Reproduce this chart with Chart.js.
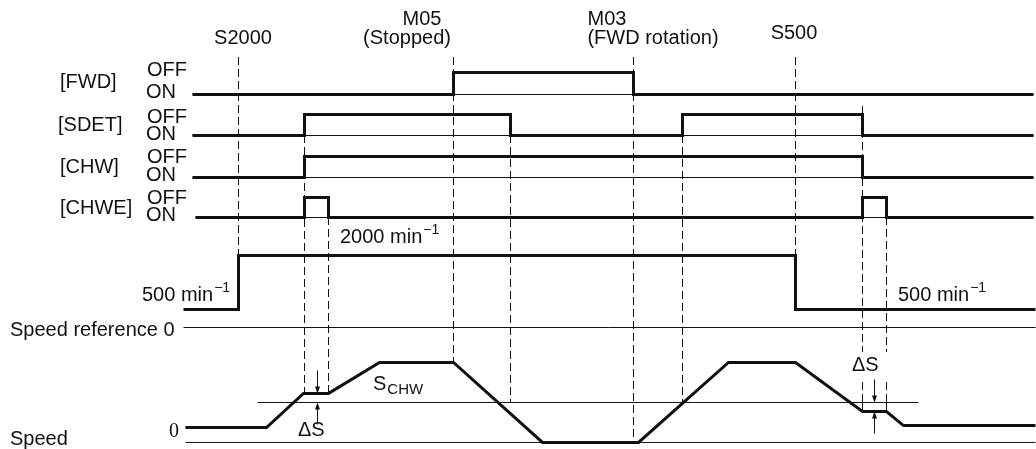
<!DOCTYPE html>
<html>
<head>
<meta charset="utf-8">
<script src="https://cdn.jsdelivr.net/npm/chart.js@4.4.1/dist/chart.umd.min.js"></script>
<style>
  html, body { margin: 0; padding: 0; background: #fff; }
  canvas { display: block; }
</style>
</head>
<body>
<canvas id="timing" width="1036" height="449"></canvas>
<script>
// transition times (horizontal units)
const eventTimes = [238, 304, 328, 453, 510, 633, 682, 795, 862, 886];

// signal states: 0 = ON (low line), 1 = OFF (high line)
const fwdTimes = [192, 453, 633, 1033];
const fwdStates = [0, 1, 0, 0];
const sdetTimes = [192, 304, 510, 682, 862, 1033];
const sdetStates = [0, 1, 0, 1, 0, 0];
const chwTimes = [192, 304, 862, 1033];
const chwStates = [0, 1, 0, 0];
const chweTimes = [195, 304, 328, 862, 886, 1033];
const chweStates = [0, 1, 0, 1, 0, 0];

// speed reference, min-1
const refTimes = [183, 238, 795, 1035];
const refValues = [500, 2000, 500, 500];

// actual speed (same units as the reference)
const speedTimes = [185, 266, 303, 328, 379, 453, 542, 638, 728, 795, 862, 886, 903, 1035];
const speedValues = [0, 0, 1050, 1050, 2000, 2000, -460, -460, 2000, 2000, 490, 490, 60, 60];
const speedChw = 770;     // S_CHW level
const speedFloor = -460;  // lower thin line

const W = 1036, H = 449;
const ink = '#111';
const sans = '"Liberation Sans", Arial, Helvetica, sans-serif';

// builds an invisible y axis so that value v0 sits at pixel p0 and v1 at p1
function fitAxis(v0, p0, v1, p1) {
  const k = (p0 - p1) / (v1 - v0);
  const max = v0 + p0 / k;
  return { type: 'linear', axis: 'y', position: 'left', display: false, min: max - H / k, max: max };
}

const pts = (xs, ys) => xs.map((x, i) => ({ x: x, y: ys[i] }));

function trace(xs, ys, axis, width, extra) {
  return Object.assign({
    data: pts(xs, ys),
    yAxisID: axis,
    showLine: true,
    borderColor: ink,
    borderWidth: width,
    pointRadius: 0,
    tension: 0,
    fill: false,
    borderJoinStyle: 'miter',
    borderCapStyle: 'butt',
    clip: false
  }, extra || {});
}

const datasets = [
  trace(fwdTimes, fwdStates, 'fwd', 3, { stepped: true }),
  trace(sdetTimes, sdetStates, 'sdet', 3, { stepped: true }),
  trace(chwTimes, chwStates, 'chw', 3, { stepped: true }),
  trace(chweTimes, chweStates, 'chwe', 3, { stepped: true }),
  trace(refTimes, refValues, 'ref', 3, { stepped: true }),
  trace(speedTimes, speedValues, 'speed', 3),
  // thin reference lines
  trace([192, 1033], [0, 0], 'fwd', 1),
  trace([192, 1033], [0, 0], 'sdet', 1),
  trace([192, 1033], [0, 0], 'chw', 1),
  trace([195, 1033], [0, 0], 'chwe', 1),
  trace([183, 1035], [0, 0], 'ref', 1),
  trace([257, 918], [speedChw, speedChw], 'speed', 1),
  trace([185, 1035], [speedFloor, speedFloor], 'speed', 1)
];

// dashed guides: event index, then top/bottom in picture rows
const guides = [
  [0, 57, 255], [1, 135, 393], [2, 217, 393], [3, 57, 362], [4, 135, 402],
  [5, 57, 443], [6, 135, 402], [7, 57, 255],
  [8, 106, 352], [8, 382, 402], [9, 217, 352], [9, 382, 402]
];

const rows = [
  { name: '[FWD]', x: 60, y: 82, off: 70, on: 92 },
  { name: '[SDET]', x: 58, y: 125, off: 117, on: 134 },
  { name: '[CHW]', x: 60, y: 167, off: 157, on: 175 },
  { name: '[CHWE]', x: 60, y: 208, off: 198, on: 215 }
];

const notes = [
  { text: 'S2000', x: 243, y: 38, align: 'center' },
  { text: 'M05', x: 422, y: 19, align: 'center' },
  { text: '(Stopped)', x: 407, y: 38, align: 'center' },
  { text: 'M03', x: 607, y: 19, align: 'center' },
  { text: '(FWD rotation)', x: 653, y: 38, align: 'center' },
  { text: 'S500', x: 794, y: 33, align: 'center' },
  { text: 'Speed reference 0', x: 10, y: 330, align: 'left' },
  { text: 'Speed', x: 10, y: 439, align: 'left' },
  { text: '\u0394S', x: 298, y: 430, align: 'left' },
  { text: '\u0394S', x: 852, y: 365, align: 'left' }
];

const speedNotes = [
  { num: '2000', x: 340, y: 237 },
  { num: '500', x: 142, y: 295 },
  { num: '500', x: 898, y: 295 }
];

// ΔS arrows: time, down arrow ending at value, up arrow ending at value
const deltaArrows = [
  { t: 317, down: 1050, up: speedChw },
  { t: 874, down: speedChw, up: 490 }
];

function arrow(ctx, x, yFrom, yTo) {
  const dir = Math.sign(yTo - yFrom);
  ctx.beginPath();
  ctx.moveTo(x, yFrom);
  ctx.lineTo(x, yTo - dir * 5);
  ctx.stroke();
  ctx.beginPath();
  ctx.moveTo(x, yTo);
  ctx.lineTo(x - 2.5, yTo - dir * 7);
  ctx.lineTo(x + 2.5, yTo - dir * 7);
  ctx.closePath();
  ctx.fill();
}

const decorations = {
  id: 'decorations',
  beforeDraw(chart) {
    const ctx = chart.ctx;
    ctx.save();
    ctx.fillStyle = '#fff';
    ctx.fillRect(0, 0, chart.width, chart.height);
    ctx.restore();
  },
  afterDatasetsDraw(chart) {
    const ctx = chart.ctx;
    const sx = chart.scales.x, pix = chart.scales.pix, sp = chart.scales.speed;
    ctx.save();
    ctx.strokeStyle = ink;
    ctx.fillStyle = ink;

    // dashed guides
    ctx.lineWidth = 1;
    ctx.setLineDash([8, 4]);
    guides.forEach(g => {
      const x = sx.getPixelForValue(eventTimes[g[0]]);
      ctx.beginPath();
      ctx.moveTo(x, pix.getPixelForValue(g[1]));
      ctx.lineTo(x, pix.getPixelForValue(g[2]));
      ctx.stroke();
    });
    ctx.setLineDash([]);

    // small box at the second ΔS
    [8, 9].forEach(i => {
      const x = sx.getPixelForValue(eventTimes[i]);
      ctx.beginPath();
      ctx.moveTo(x, sp.getPixelForValue(speedChw));
      ctx.lineTo(x, sp.getPixelForValue(490));
      ctx.stroke();
    });

    // ΔS arrows
    deltaArrows.forEach(a => {
      const x = sx.getPixelForValue(a.t);
      const yd = sp.getPixelForValue(a.down);
      const yu = sp.getPixelForValue(a.up);
      arrow(ctx, x, yd - 23, yd);
      arrow(ctx, x, yu + 22, yu);
    });

    // texts
    ctx.textBaseline = 'middle';
    ctx.font = '20px ' + sans;
    rows.forEach(r => {
      ctx.textAlign = 'left';
      ctx.fillText(r.name, r.x, r.y);
      ctx.fillText('OFF', 147, r.off);
      ctx.fillText('ON', 146, r.on);
    });
    notes.forEach(n => {
      ctx.textAlign = n.align;
      ctx.fillText(n.text, n.x, n.y);
    });

    ctx.textAlign = 'left';
    speedNotes.forEach(n => {
      ctx.font = '20px ' + sans;
      const t = n.num + ' min';
      ctx.fillText(t, n.x, n.y);
      const w = ctx.measureText(t).width;
      ctx.font = '14px ' + sans;
      ctx.fillText('\u22121', n.x + w + 1, n.y - 7);
    });

    // S_CHW
    ctx.font = '20px ' + sans;
    ctx.fillText('S', 373, 384);
    const ws = ctx.measureText('S').width;
    ctx.font = '15px ' + sans;
    ctx.fillText('CHW', 373 + ws + 1, 390);

    // speed zero mark
    ctx.font = '20px "Liberation Serif", "Times New Roman", serif';
    ctx.fillText('0', 169, 432);

    ctx.restore();
  }
};

// half-pixel anchors keep the thin lines crisp
const scales = {
  x: { type: 'linear', axis: 'x', position: 'bottom', display: false, min: -0.5, max: W - 0.5 },
  pix: { type: 'linear', axis: 'y', position: 'left', display: false, min: 0, max: H, reverse: true },
  fwd: fitAxis(0, 94.5, 1, 72.5),
  sdet: fitAxis(0, 135.5, 1, 114.5),
  chw: fitAxis(0, 177.5, 1, 156.5),
  chwe: fitAxis(0, 217.5, 1, 197.5),
  ref: fitAxis(0, 327.5, 2000, 255.5),
  speed: fitAxis(0, 427.5, 2000, 362.5)
};

new Chart(document.getElementById('timing').getContext('2d'), {
  type: 'scatter',
  data: { datasets: datasets },
  options: {
    responsive: false,
    animation: false,
    layout: { padding: 0 },
    plugins: { legend: { display: false }, tooltip: { enabled: false }, title: { display: false } },
    scales: scales
  },
  plugins: [decorations]
});
</script>
</body>
</html>
